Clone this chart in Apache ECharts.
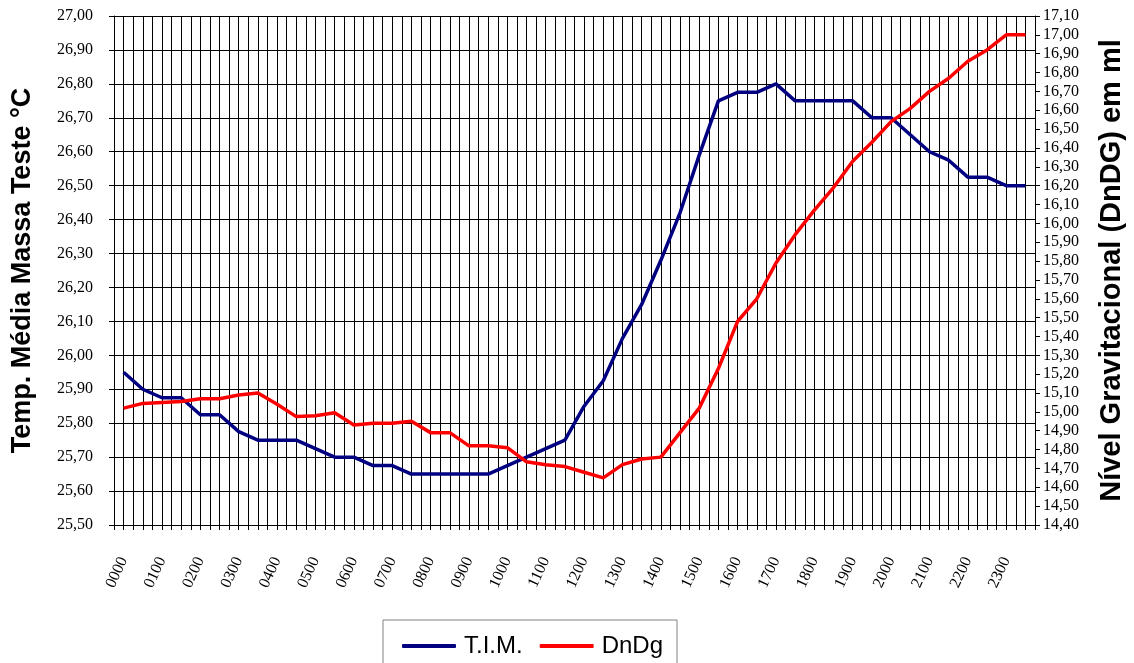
<!DOCTYPE html>
<html>
<head>
    <meta charset="utf-8">
    <title>T.I.M. x DnDg</title>
    <script src="https://cdn.jsdelivr.net/npm/echarts@6/dist/echarts.min.js"></script>
    <style>
        html, body { margin: 0; padding: 0; background: #fff; }
    </style>
</head>
<body>

<div id="main" style="width: 1134px;height:663px;"></div>
<script type="text/javascript">
    // horarios (a cada 30 min), so os de hora cheia aparecem no eixo
    var horas = ['0000','0030','0100','0130','0200','0230','0300','0330','0400','0430',
                 '0500','0530','0600','0630','0700','0730','0800','0830','0900','0930',
                 '1000','1030','1100','1130','1200','1230','1300','1330','1400','1430',
                 '1500','1530','1600','1630','1700','1730','1800','1830','1900','1930',
                 '2000','2030','2100','2130','2200','2230','2300','2330'];

    // temperatura media massa teste (eixo esquerdo)
    var tim = [25.95, 25.90, 25.875, 25.875, 25.825, 25.825, 25.775, 25.75, 25.75, 25.75,
               25.725, 25.70, 25.70, 25.675, 25.675, 25.65, 25.65, 25.65, 25.65, 25.65,
               25.675, 25.70, 25.725, 25.75, 25.85, 25.925, 26.05, 26.15, 26.28, 26.42,
               26.59, 26.75, 26.775, 26.775, 26.80, 26.75, 26.75, 26.75, 26.75, 26.70,
               26.70, 26.65, 26.60, 26.575, 26.525, 26.525, 26.50, 26.50];

    // nivel gravitacional (eixo direito)
    var dndg = [15.02, 15.045, 15.05, 15.055, 15.07, 15.07, 15.09, 15.10, 15.04, 14.975,
                14.98, 14.995, 14.93, 14.94, 14.94, 14.95, 14.89, 14.89, 14.82, 14.82,
                14.81, 14.735, 14.72, 14.71, 14.68, 14.65, 14.72, 14.75, 14.76, 14.89,
                15.02, 15.23, 15.48, 15.60, 15.79, 15.94, 16.07, 16.19, 16.33, 16.43,
                16.54, 16.61, 16.70, 16.77, 16.86, 16.92, 17.00, 17.00];

    var myChart = echarts.init(document.getElementById('main'));

    function virgula(v) {
        return v.toFixed(2).replace('.', ',');
    }

    var serif = 'Liberation Serif';
    var sans = 'Liberation Sans';

    var option = {
        animation: false,
        backgroundColor: '#ffffff',
        grid: {
            left: 114,
            right: 94,
            top: 16,
            bottom: 138
        },
        legend: {
            left: 383,
            top: 620,
            padding: [14, 14, 14, 19],
            borderColor: '#808080',
            borderWidth: 1,
            itemGap: 17,
            itemWidth: 54,
            itemHeight: 4,
            icon: 'roundRect',
            textStyle: {
                fontFamily: sans,
                fontSize: 24,
                color: '#000',
                padding: [0, 0, 0, 3]
            },
            data: ['T.I.M.', 'DnDg']
        },
        xAxis: [
            {
                type: 'category',
                data: horas,
                boundaryGap: true,
                axisLine: { show: false },
                axisTick: { show: false },
                splitLine: { show: false },
                axisLabel: {
                    interval: 1,
                    rotate: 65,
                    margin: 33,
                    fontFamily: serif,
                    fontSize: 16,
                    color: '#000'
                }
            },
            {
                // grade vertical fina (meia categoria)
                type: 'value',
                position: 'bottom',
                min: 0,
                max: 96,
                interval: 1,
                axisLabel: { show: false },
                axisLine: { show: true, lineStyle: { color: '#000', width: 1 } },
                axisTick: { show: true, length: 5, lineStyle: { color: '#000' } },
                splitLine: { show: true, lineStyle: { color: '#000', width: 1 } }
            }
        ],
        yAxis: [
            {
                type: 'value',
                min: 25.5,
                max: 27.0,
                interval: 0.1,
                name: 'Temp. Média Massa Teste °C',
                nameLocation: 'middle',
                nameRotate: 90,
                nameGap: 78,
                nameTextStyle: {
                    fontFamily: sans,
                    fontWeight: 'bold',
                    fontSize: 27,
                    color: '#000'
                },
                axisLine: { show: true, lineStyle: { color: '#000', width: 1 } },
                axisTick: { show: true, length: 5, lineStyle: { color: '#000' } },
                splitLine: { show: true, lineStyle: { color: '#000', width: 1 } },
                axisLabel: {
                    margin: 21,
                    fontFamily: serif,
                    fontSize: 16,
                    color: '#000',
                    formatter: virgula
                }
            },
            {
                type: 'value',
                position: 'right',
                min: 14.4,
                max: 17.1,
                interval: 0.1,
                name: 'Nível Gravitacional (DnDG) em ml',
                nameLocation: 'middle',
                nameRotate: 90,
                nameGap: 62,
                nameTextStyle: {
                    fontFamily: sans,
                    fontWeight: 'bold',
                    fontSize: 29,
                    color: '#000'
                },
                axisLine: { show: true, lineStyle: { color: '#000', width: 1 } },
                axisTick: { show: true, length: 5, lineStyle: { color: '#000' } },
                splitLine: { show: false },
                axisLabel: {
                    margin: 8,
                    fontFamily: serif,
                    fontSize: 16,
                    color: '#000',
                    formatter: virgula
                }
            }
        ],
        series: [
            {
                name: 'T.I.M.',
                type: 'line',
                xAxisIndex: 0,
                yAxisIndex: 0,
                data: tim,
                showSymbol: false,
                color: '#000080',
                lineStyle: { color: '#000080', width: 3.5 }
            },
            {
                name: 'DnDg',
                type: 'line',
                xAxisIndex: 0,
                yAxisIndex: 1,
                data: dndg,
                showSymbol: false,
                color: '#ff0000',
                lineStyle: { color: '#ff0000', width: 3.5 }
            }
        ]
    };
    myChart.setOption(option);
</script>
</body>
</html>
